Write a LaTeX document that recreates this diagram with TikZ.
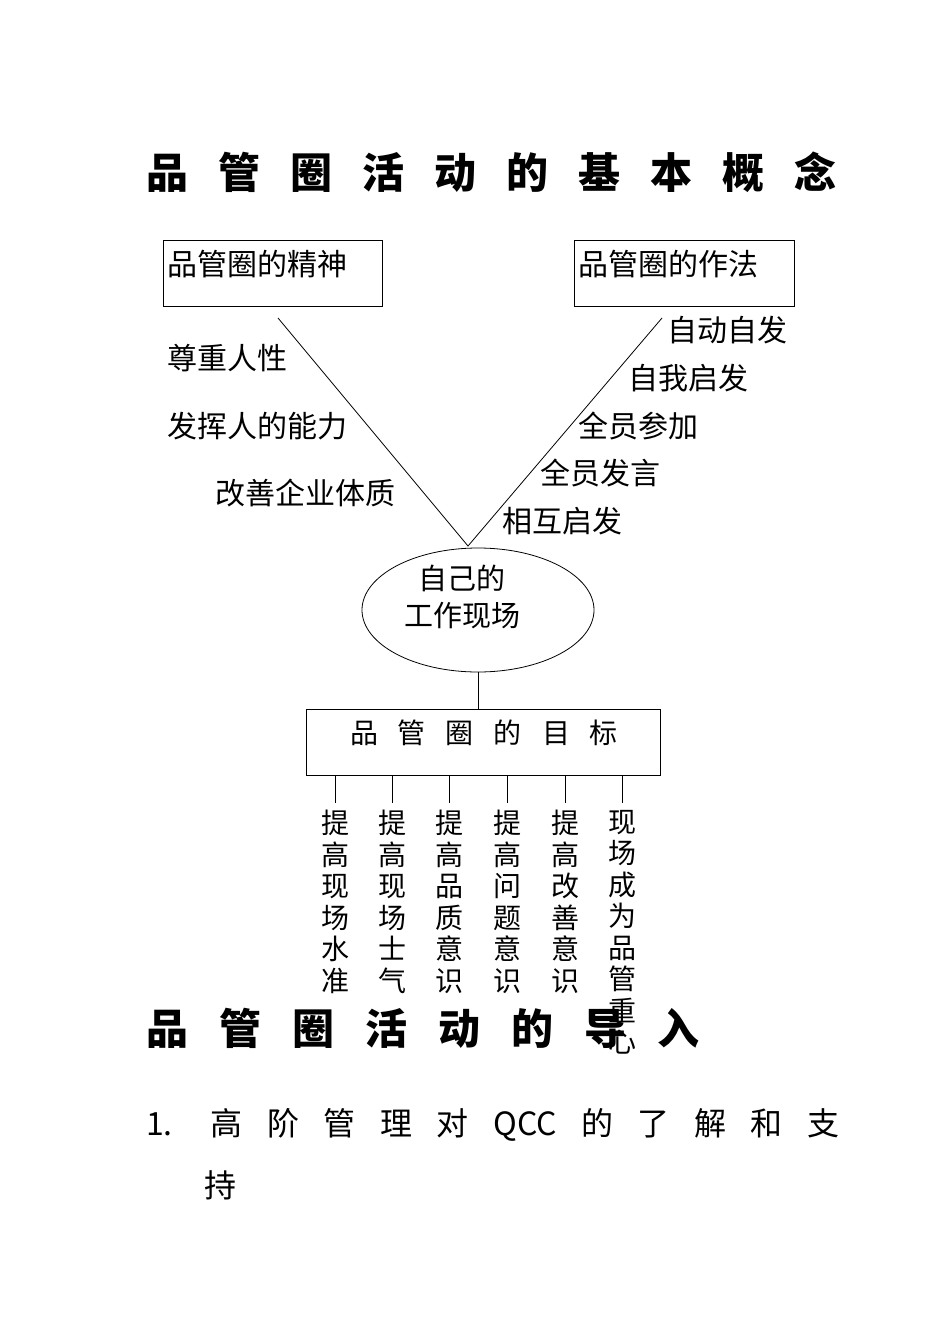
\documentclass[tikz,border=0pt]{standalone}
\usepackage{fontspec}
\setmainfont{Noto Sans CJK SC}
\begin{document}
\begin{tikzpicture}[x=1pt,y=-1pt,
  lbl/.style={inner sep=0pt,anchor=west,font=\fontsize{30}{32}\selectfont},
  ttl/.style={inner sep=0pt,anchor=west,font=\fontsize{42}{44}\selectfont\bfseries},
  vt/.style={inner sep=0pt,anchor=north,align=center,font=\fontsize{28}{31.5}\selectfont},
  bx/.style={draw,line width=0.8pt}]
\useasboundingbox (0,0) rectangle (950,1344);
\node[ttl] (t1) at (146,172) {品\hspace{30pt}管\hspace{30pt}圈\hspace{30pt}活\hspace{30pt}动\hspace{30pt}的\hspace{30pt}基\hspace{30pt}本\hspace{30pt}概\hspace{30pt}念};
\draw[bx] (163,240) rectangle (382,306);
\node[lbl] (b1) at (167,264) {品管圈的精神};
\draw[bx] (574,240) rectangle (794,306);
\node[lbl] (b2) at (578,264) {品管圈的作法};
\coordinate (v) at (468,546);
\coordinate (l1) at (278,318);
\coordinate (r1) at (662,318);
\draw[line width=0.8pt] (l1) -- (v) -- (r1);
\node[lbl] (a1) at (167,358) {尊重人性};
\node[lbl] (a2) at (167,426) {发挥人的能力};
\node[lbl] (a3) at (215,493) {改善企业体质};
\node[lbl] (c1) at (667,330) {自动自发};
\node[lbl] (c2) at (628,378) {自我启发};
\node[lbl] (c3) at (578,426) {全员参加};
\node[lbl] (c4) at (540,473) {全员发言};
\node[lbl] (c5) at (502,521) {相互启发};
\draw[line width=0.8pt] (478,610) ellipse [x radius=116, y radius=62];
\node[inner sep=0pt,align=center,font=\fontsize{29}{37}\selectfont] (e) at (462,597) {自己的\\工作现场};
\draw[line width=0.8pt] (478,672) -- (478,709);
\draw[bx] (306,709) rectangle (660,775);
\node[inner sep=0pt,font=\fontsize{28}{30}\selectfont] (g) at (484,733) {品\hspace{20pt}管\hspace{20pt}圈\hspace{20pt}的\hspace{20pt}目\hspace{20pt}标};
\foreach \x/\t in {335/{提\\高\\现\\场\\水\\准},392/{提\\高\\现\\场\\士\\气},449/{提\\高\\品\\质\\意\\识},507/{提\\高\\问\\题\\意\\识},565/{提\\高\\改\\善\\意\\识},622/{现\\场\\成\\为\\品\\管\\重\\心}}{
  \draw[line width=0.8pt] (\x,775) -- (\x,803);
  \node[vt] at (\x,810) {\t};
}
\node[ttl] (t2) at (146,1028) {品\hspace{31pt}管\hspace{31pt}圈\hspace{31pt}活\hspace{31pt}动\hspace{31pt}的\hspace{31pt}导\hspace{31pt}入};
\node[lbl,font=\fontsize{32}{34}\selectfont] (p1) at (146,1125) {1.\hspace{38pt}高\hspace{24.5pt}阶\hspace{24.5pt}管\hspace{24.5pt}理\hspace{24.5pt}对\hspace{24.5pt}QCC\hspace{24.5pt}的\hspace{24.5pt}了\hspace{24.5pt}解\hspace{24.5pt}和\hspace{24.5pt}支};
\node[lbl,font=\fontsize{32}{34}\selectfont] (p2) at (204,1185) {持};
\end{tikzpicture}
\end{document}
